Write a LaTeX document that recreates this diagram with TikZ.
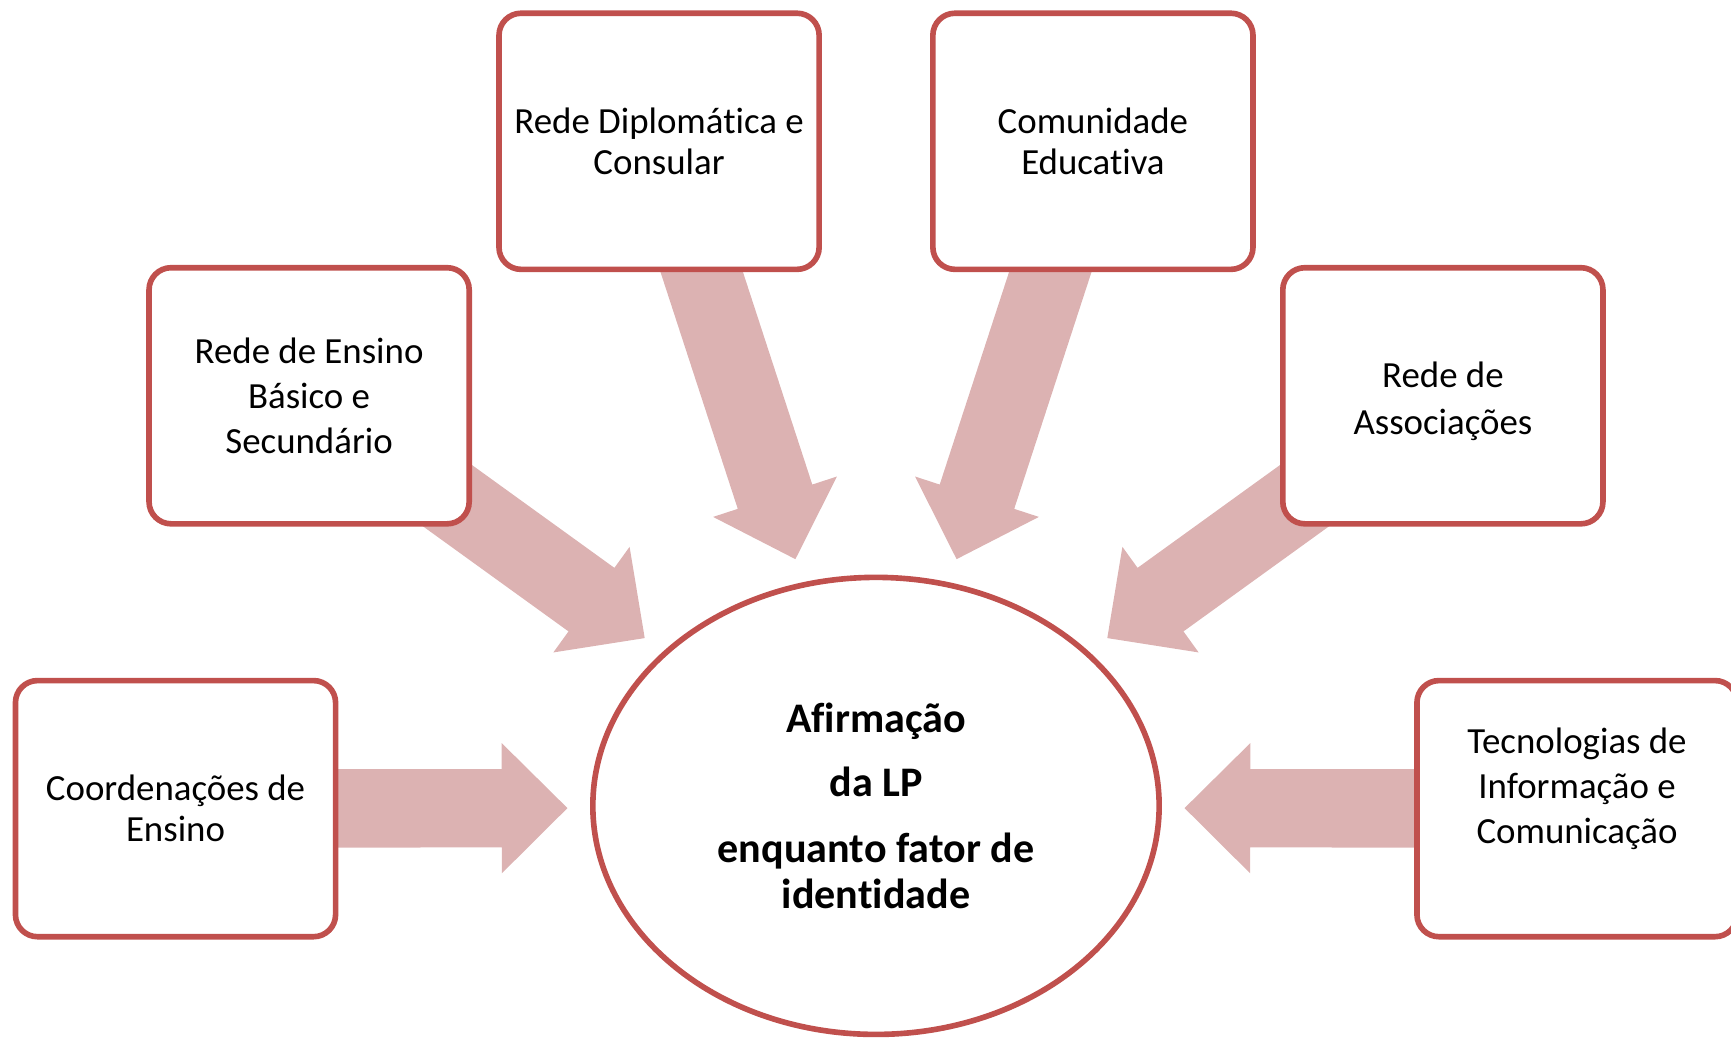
\documentclass[tikz,border=0pt]{standalone}
\usepackage{fontspec}
\setmainfont{Carlito}[Ligatures={NoCommon}]
\usetikzlibrary{positioning, calc, shapes.geometric, backgrounds}
\definecolor{accentred}{HTML}{C0504D}
\definecolor{arrowpink}{HTML}{DCB2B2}

% block arrow from a box centre to a tip
\newcommand{\flowarrow}[2]{%
  \coordinate (hb) at ($(#2)!1.19cm!(#1)$);
  \fill[arrowpink] ($(#1)!0.71cm!90:(#2)$) -- ($(hb)!0.71cm!90:(#2)$) -- ($(hb)!1.18cm!90:(#2)$) -- (#2)
    -- ($(hb)!1.18cm!-90:(#2)$) -- ($(hb)!0.71cm!-90:(#2)$) -- ($(#1)!0.71cm!-90:(#2)$) --cycle;
}

\begin{document}
\begin{tikzpicture}[
  partner/.style={draw=accentred, line width=2.9pt, fill=white, rounded corners=0.4cm, minimum width=5.8cm, minimum height=4.64cm, inner sep=0pt, align=center, font=\fontsize{19}{21}\selectfont},
  core/.style={ellipse, draw=accentred, line width=2.9pt, fill=white, minimum width=10.26cm, minimum height=8.28cm, inner sep=0pt, align=center, font=\bfseries\fontsize{21.7}{23.9}\selectfont}]
	\useasboundingbox (0,0) rectangle (31.36,-18.8);
	\node[core] (lp) at (15.87,-14.60) {Afirmação\\[9.1pt]da LP\\[10.2pt]enquanto fator de\\identidade};
	\node[partner] (coord) at (3.18,-14.65) {Coordenações de\\Ensino};
	\node[partner, font=\fontsize{19}{23.3}\selectfont] (ensino) at (5.60,-7.17) {Rede de Ensino\\Básico e\\Secundário};
	\node[partner] (diplo) at (11.94,-2.56) {Rede Diplomática e\\Consular};
	\node[partner] (comun) at (19.80,-2.56) {Comunidade\\Educativa};
	\node[partner, font=\fontsize{19}{23.9}\selectfont, text height=1.5cm] (assoc) at (26.14,-7.17) {Rede de\\Associações};
	\node[partner, font=\fontsize{19}{23.3}\selectfont, text depth=0.84cm] (tic) at (28.57,-14.65) {Tecnologias de\\Informação e\\Comunicação};
	\coordinate (t1) at (10.28,-14.64);
	\coordinate (t2) at (11.68,-11.56);
	\coordinate (t3) at (14.41,-10.13);
	\coordinate (t4) at (17.33,-10.13);
	\coordinate (t5) at (20.06,-11.56);
	\coordinate (t6) at (21.46,-14.64);
	\begin{scope}[on background layer]
		\flowarrow{coord.center}{t1}
		\flowarrow{ensino.center}{t2}
		\flowarrow{diplo.center}{t3}
		\flowarrow{comun.center}{t4}
		\flowarrow{assoc.center}{t5}
		\flowarrow{tic.center}{t6}
	\end{scope}
\end{tikzpicture}
\end{document}
